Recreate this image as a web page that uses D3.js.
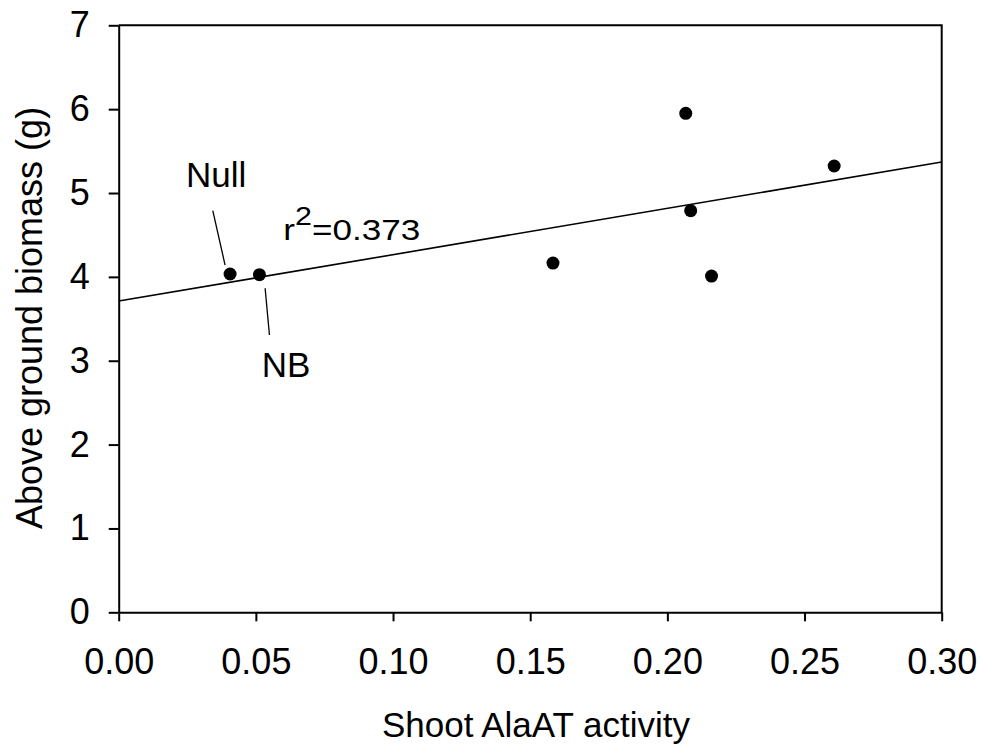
<!DOCTYPE html>
<html>
<head>
<meta charset="utf-8">
<script src="https://cdn.jsdelivr.net/npm/d3@7"></script>
<style>
  body { margin: 0; background: #fff; }
  svg { display: block; font-family: "Liberation Sans", Arial, sans-serif; }
  .axis path, .axis line { stroke: #000; stroke-width: 2; }
  .axis text { font-size: 36px; fill: #000; }
</style>
</head>
<body>
<div id="chart"></div>
<script>
"use strict";

// == data ==
var activity = [0.0406, 0.0513, 0.1583, 0.2067, 0.2085, 0.2161, 0.2608];
var biomass  = [4.034, 4.026, 4.165, 5.95, 4.789, 4.010, 5.322];
var pointLabels = ["Null", "NB", "", "", "", "", ""];
var xTicks = [0, 0.05, 0.10, 0.15, 0.20, 0.25, 0.30];
var yTicks = [0, 1, 2, 3, 4, 5, 6, 7];
var r2Text = "0.373";

// == svg boilerplate ==
var W = 983, H = 749;
var margin = { top: 25.3, right: 41.3, bottom: 136.7, left: 118.7 },
    width = W - margin.left - margin.right,
    height = H - margin.top - margin.bottom;

var svg = d3.select("#chart")
            .append("svg")
            .attr("width", W)
            .attr("height", H)
            .append("g")
            .attr("transform", "translate(" + margin.left + "," + margin.top + ")");

var x = d3.scaleLinear().domain([0, 0.30]).range([0, width]);
var y = d3.scaleLinear().domain([0, 7]).range([height, 0]);

// == frame (top and right) ==
svg.append("path")
   .attr("d", "M" + x(0) + "," + y(7) + "H" + x(0.30) + "V" + y(0))
   .attr("fill", "none")
   .attr("stroke", "#000")
   .attr("stroke-width", 2);

// == axes ==
svg.append("g")
   .attr("class", "axis")
   .attr("transform", "translate(0," + height + ")")
   .call(d3.axisBottom(x).tickValues(xTicks).tickFormat(d3.format(".2f"))
           .tickSizeInner(9).tickSizeOuter(0).tickPadding(27));

svg.append("g")
   .attr("class", "axis")
   .call(d3.axisLeft(y).tickValues(yTicks).tickFormat(d3.format("d"))
           .tickSizeInner(10).tickSizeOuter(0).tickPadding(19));

// == regression line (least squares on the points) ==
var mx = d3.mean(activity), my = d3.mean(biomass);
var sxy = d3.sum(activity, function (d, i) { return (d - mx) * (biomass[i] - my); });
var sxx = d3.sum(activity, function (d) { return (d - mx) * (d - mx); });
var slope = sxy / sxx, intercept = my - slope * mx;

svg.append("line")
   .attr("x1", x(0)).attr("y1", y(intercept))
   .attr("x2", x(0.30)).attr("y2", y(intercept + slope * 0.30))
   .attr("stroke", "#000")
   .attr("stroke-width", 1.6);

// == points ==
var pts = activity.map(function (d, i) { return { x: d, y: biomass[i], label: pointLabels[i] }; });

svg.selectAll("circle.pt")
   .data(pts)
   .enter()
   .append("circle")
   .attr("class", "pt")
   .attr("cx", function (d) { return x(d.x); })
   .attr("cy", function (d) { return y(d.y); })
   .attr("r", 6.5)
   .attr("fill", "#000");

// == point annotations with leader lines ==
var annot = {
  "Null": { tx: -44, ty: -87, l: [-17.3, -63.3, -5, -9] },
  "NB":   { tx: 2.4, ty: 102, l: [5.7, 13.6, 10, 60.3] }
};

pts.filter(function (d) { return d.label; }).forEach(function (d) {
  var a = annot[d.label], px = x(d.x), py = y(d.y);
  svg.append("line")
     .attr("x1", px + a.l[0]).attr("y1", py + a.l[1])
     .attr("x2", px + a.l[2]).attr("y2", py + a.l[3])
     .attr("stroke", "#000")
     .attr("stroke-width", 1.3);
  svg.append("text")
     .attr("x", px + a.tx)
     .attr("y", py + a.ty)
     .attr("font-size", 35)
     .text(d.label);
});

// == r^2 label (slightly stretched, as in the original) ==
var r2 = svg.append("text")
   .attr("transform", "translate(" + x(0.060) + "," + y(4.44) + ") scale(1.17,1)")
   .attr("font-size", 30);
r2.append("tspan").text("r");
r2.append("tspan").attr("dy", -15).attr("font-size", 26).text("2");
r2.append("tspan").attr("dy", 15).text("=" + r2Text);

// == axis titles ==
svg.append("text")
   .attr("x", 536 - margin.left)
   .attr("y", 737 - margin.top)
   .attr("text-anchor", "middle")
   .attr("font-size", 35)
   .text("Shoot AlaAT activity");

svg.append("text")
   .attr("transform", "translate(" + (42 - margin.left) + "," + (318 - margin.top) + ") rotate(-90)")
   .attr("text-anchor", "middle")
   .attr("font-size", 36)
   .text("Above ground biomass (g)");
</script>
</body>
</html>
